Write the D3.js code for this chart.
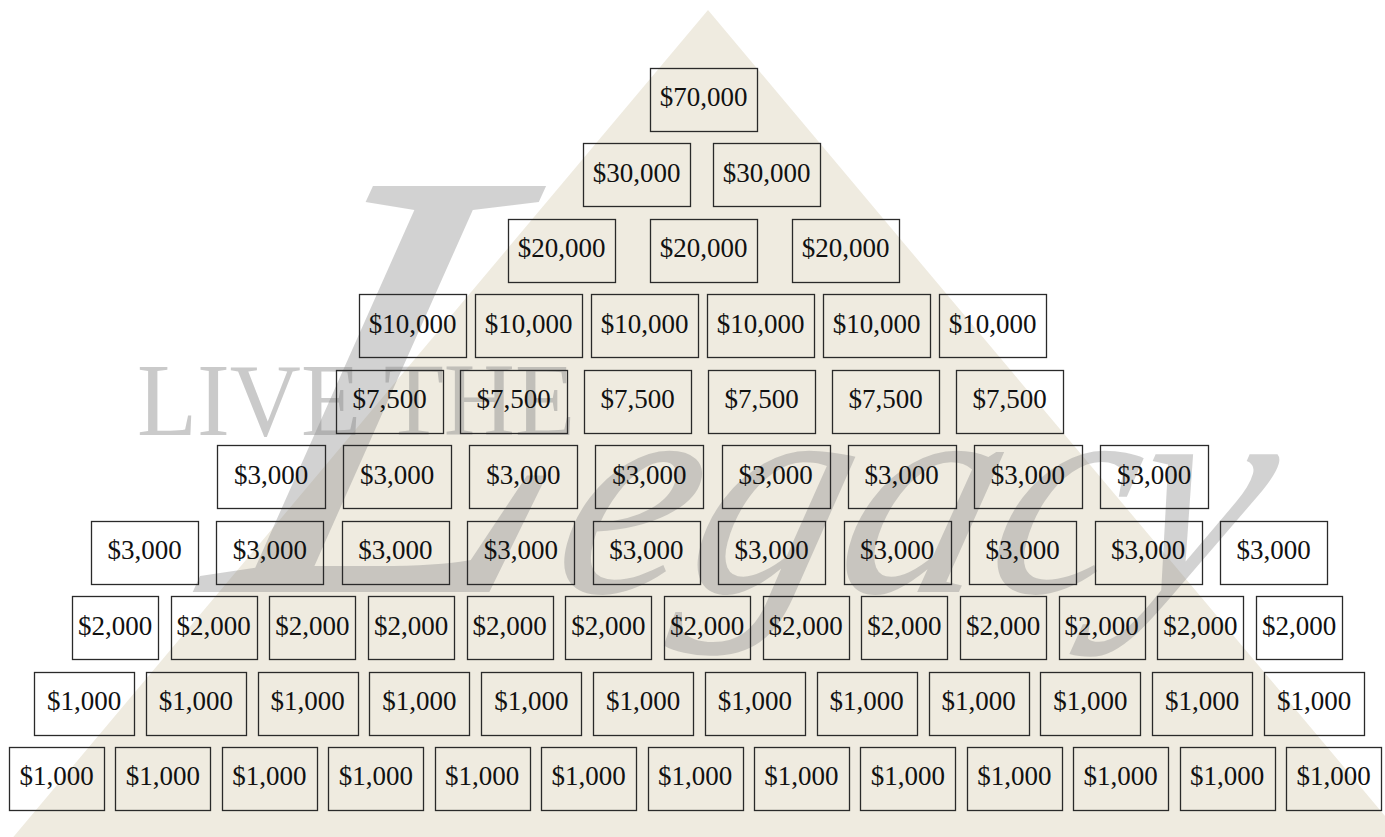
<!DOCTYPE html>
<html>
<head>
<meta charset="utf-8">
<script src="https://cdn.jsdelivr.net/npm/d3@7"></script>
<style>
  body { margin: 0; background: #ffffff; }
  svg { display: block; }
</style>
</head>
<body>
<div id="chart"></div>
<script>
// amount of each box, one value per row of the pyramid (top to bottom)
const rowAmounts = [70000, 30000, 20000, 10000, 7500, 3000, 3000, 2000, 1000, 1000];
// number of boxes in each row
const rowCounts = [1, 2, 3, 6, 6, 8, 10, 13, 12, 13];

// layout of each row: left edge, right edge, box width (px)
const rowLeft = [650, 583, 508, 359, 336, 217, 91, 72, 34, 9];
const rowRight = [757, 820, 899, 1046, 1063, 1208, 1327, 1342, 1364, 1381];
const boxWidth = [107, 107, 107, 107, 107, 108, 107, 86, 100, 95];

const w = 1385;
const h = 837;

const beige = "#efebe0",
  ink = "#111111",
  boxStroke = "#2a2a2a",
  watermark = "#8a8a8a";

const fmt = d3.format("$,");

const svg = d3
  .select("#chart")
  .append("svg")
  .attr("width", w)
  .attr("height", h);

// background pyramid
const apex = [708, 10];
const slope = 0.84;
const triangle = [
  [apex[0] - slope * (h - apex[1]), h],
  apex,
  [apex[0] + slope * (h - apex[1]), h]
];
svg
  .append("path")
  .attr("d", d3.line()(triangle) + "Z")
  .attr("fill", beige);

// watermark text
svg
  .append("text")
  .attr("x", 137)
  .attr("y", 435)
  .attr("font-family", "Liberation Serif, serif")
  .attr("font-size", 104)
  .attr("textLength", 438)
  .attr("lengthAdjust", "spacingAndGlyphs")
  .attr("fill", watermark)
  .attr("fill-opacity", 0.45)
  .text("LIVE THE");

// slanted "Legacy" script, skewed around its baseline
const legacyBase = 592;
const legacy = svg
  .append("text")
  .attr("x", 200)
  .attr("y", legacyBase)
  .attr("transform", `translate(0,${legacyBase}) skewX(-15) translate(0,${-legacyBase})`)
  .attr("font-family", "Liberation Serif, serif")
  .attr("font-style", "italic")
  .attr("fill", watermark)
  .attr("fill-opacity", 0.38);
legacy.append("tspan").attr("font-size", 620).text("L");
legacy.append("tspan").attr("font-size", 300).text("egacy");

// rows
const yScale = d3
  .scaleBand()
  .domain(d3.range(rowAmounts.length))
  .range([68, 810])
  .paddingInner(0.165);

//each row gets its own band scale spanning that row
const rowScale = (r) => {
  const n = rowCounts[r];
  const k = (rowRight[r] - rowLeft[r]) / boxWidth[r];
  const pad = n > 1 ? (k - n) / (k - 1) : 0;
  return d3
    .scaleBand()
    .domain(d3.range(n))
    .range([rowLeft[r], rowRight[r]])
    .paddingInner(pad);
};

let boxes = [];
rowAmounts.forEach((amount, r) => {
  const xScale = rowScale(r);
  d3.range(rowCounts[r]).forEach((i) => {
    boxes.push({
      amount: amount,
      x: xScale(i),
      width: xScale.bandwidth(),
      y: yScale(r)
    });
  });
});

const cell = svg
  .selectAll("g.cell")
  .data(boxes)
  .enter()
  .append("g")
  .attr("class", "cell");

cell
  .append("rect")
  .attr("x", (d) => Math.round(d.x) + 0.5)
  .attr("y", (d) => Math.round(d.y) + 0.5)
  .attr("width", (d) => Math.round(d.width))
  .attr("height", Math.round(yScale.bandwidth()))
  .attr("fill", "none")
  .attr("stroke", boxStroke)
  .attr("stroke-width", 1.3);

cell
  .append("text")
  .attr("x", (d) => d.x + d.width / 2)
  .attr("y", (d) => d.y + yScale.bandwidth() * 0.61)
  .attr("text-anchor", "middle")
  .attr("font-family", "Liberation Serif, serif")
  .attr("font-size", 27)
  .attr("fill", ink)
  .text((d) => fmt(d.amount));
</script>
</body>
</html>
